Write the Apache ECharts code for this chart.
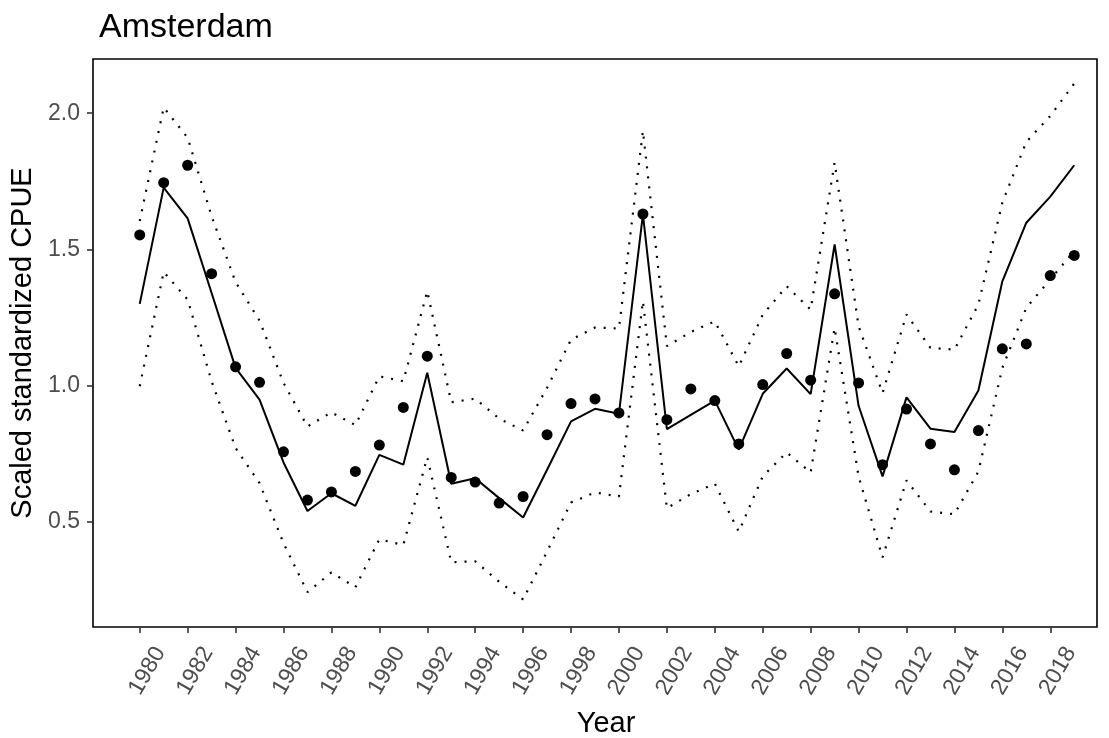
<!DOCTYPE html>
<html>
<head>
<meta charset="utf-8">
<script src="https://cdn.jsdelivr.net/npm/echarts@6/dist/echarts.min.js"></script>
<style>
html,body{margin:0;padding:0;background:#fff;}
#chart{width:1109px;height:738px;}
</style>
</head>
<body>
<div id="chart"></div>
<script>
const years = [1980,1981,1982,1983,1984,1985,1986,1987,1988,1989,1990,1991,1992,1993,1994,1995,1996,1997,1998,1999,2000,2001,2002,2003,2004,2005,2006,2007,2008,2009,2010,2011,2012,2013,2014,2015,2016,2017,2018,2019];
const observed = [1.553,1.745,1.809,1.411,1.069,1.012,0.757,0.580,0.610,0.685,0.782,0.920,1.108,0.663,0.646,0.569,0.593,0.820,0.934,0.951,0.900,1.630,0.875,0.988,0.945,0.786,1.004,1.118,1.020,1.337,1.010,0.710,0.914,0.786,0.691,0.835,1.135,1.153,1.404,1.478];
const fitted = [1.300,1.727,1.614,1.340,1.065,0.949,0.718,0.540,0.605,0.559,0.746,0.710,1.047,0.640,0.660,0.587,0.516,0.691,0.869,0.915,0.897,1.629,0.840,0.893,0.945,0.765,0.970,1.063,0.969,1.518,0.926,0.667,0.957,0.842,0.830,0.982,1.383,1.598,1.694,1.809];
const upper = [1.604,2.021,1.910,1.622,1.380,1.239,1.010,0.850,0.902,0.855,1.034,1.016,1.347,0.939,0.952,0.879,0.835,0.992,1.169,1.213,1.210,1.935,1.145,1.197,1.236,1.071,1.260,1.365,1.279,1.819,1.218,0.973,1.261,1.139,1.132,1.298,1.672,1.895,1.990,2.109];
const lower = [0.998,1.417,1.316,1.016,0.771,0.642,0.422,0.242,0.314,0.260,0.436,0.415,0.737,0.352,0.355,0.280,0.215,0.391,0.571,0.608,0.593,1.310,0.550,0.602,0.640,0.464,0.667,0.755,0.681,1.212,0.667,0.369,0.652,0.538,0.528,0.685,1.065,1.286,1.390,1.494];
const xTicks = [1980,1982,1984,1986,1988,1990,1992,1994,1996,1998,2000,2002,2004,2006,2008,2010,2012,2014,2016,2018];
const yTicks = [0.5,1.0,1.5,2.0];

const pair = arr => years.map((y,i)=>[y,arr[i]]);
const FONT = '"Liberation Sans", Arial, sans-serif';

const chart = echarts.init(document.getElementById('chart'), null, {renderer:'canvas'});
chart.setOption({
  animation:false,
  backgroundColor:'#ffffff',
  textStyle:{fontFamily:FONT},
  title:{
    text:'Amsterdam', left:94, top:6,
    textStyle:{fontFamily:FONT, fontSize:34, fontWeight:'normal', color:'#000'}
  },
  grid:{left:93, top:59, right:12, bottom:111, show:true, borderColor:'#000', borderWidth:1.6,
        backgroundColor:'#fff', containLabel:false, outerBoundsMode:'none'},
  xAxis:{
    type:'value', min:1978.05, max:2019.95,
    name:'Year', nameLocation:'middle', nameGap:82,
    nameTextStyle:{fontFamily:FONT, fontSize:29, color:'#000', padding:[0,0,0,22]},
    axisLine:{show:false},
    splitLine:{show:false},
    axisTick:{show:true, length:6, customValues:xTicks, lineStyle:{color:'#333', width:1.6}},
    axisLabel:{
      customValues:xTicks, rotate:60, margin:10, fontSize:23, color:'#4d4d4d',
      fontFamily:FONT, align:'right', verticalAlign:'top', padding:[12,0,0,0],
      formatter:v=>String(v)
    }
  },
  yAxis:{
    type:'value', min:0.114, max:2.199,
    name:'Scaled standardized CPUE', nameLocation:'middle', nameGap:48,
    nameTextStyle:{fontFamily:FONT, fontSize:29, color:'#000'},
    axisLine:{show:false},
    splitLine:{show:false},
    axisTick:{show:true, length:6, customValues:yTicks, lineStyle:{color:'#333', width:1.6}},
    axisLabel:{customValues:yTicks, margin:13, fontSize:23, color:'#4d4d4d', fontFamily:FONT,
      formatter:v=>Number(v).toFixed(1)}
  },
  series:[
    {name:'upper', type:'line', data:pair(upper), symbol:'none', silent:true,
     lineStyle:{color:'#000', width:2.2, type:[2,8], cap:'butt'}},
    {name:'lower', type:'line', data:pair(lower), symbol:'none', silent:true,
     lineStyle:{color:'#000', width:2.2, type:[2,8], cap:'butt'}},
    {name:'fitted', type:'line', data:pair(fitted), symbol:'none', silent:true,
     lineStyle:{color:'#000', width:2}},
    {name:'observed', type:'scatter', data:pair(observed), symbol:'circle', symbolSize:11,
     itemStyle:{color:'#000', opacity:1}}
  ]
});
</script>
</body>
</html>
